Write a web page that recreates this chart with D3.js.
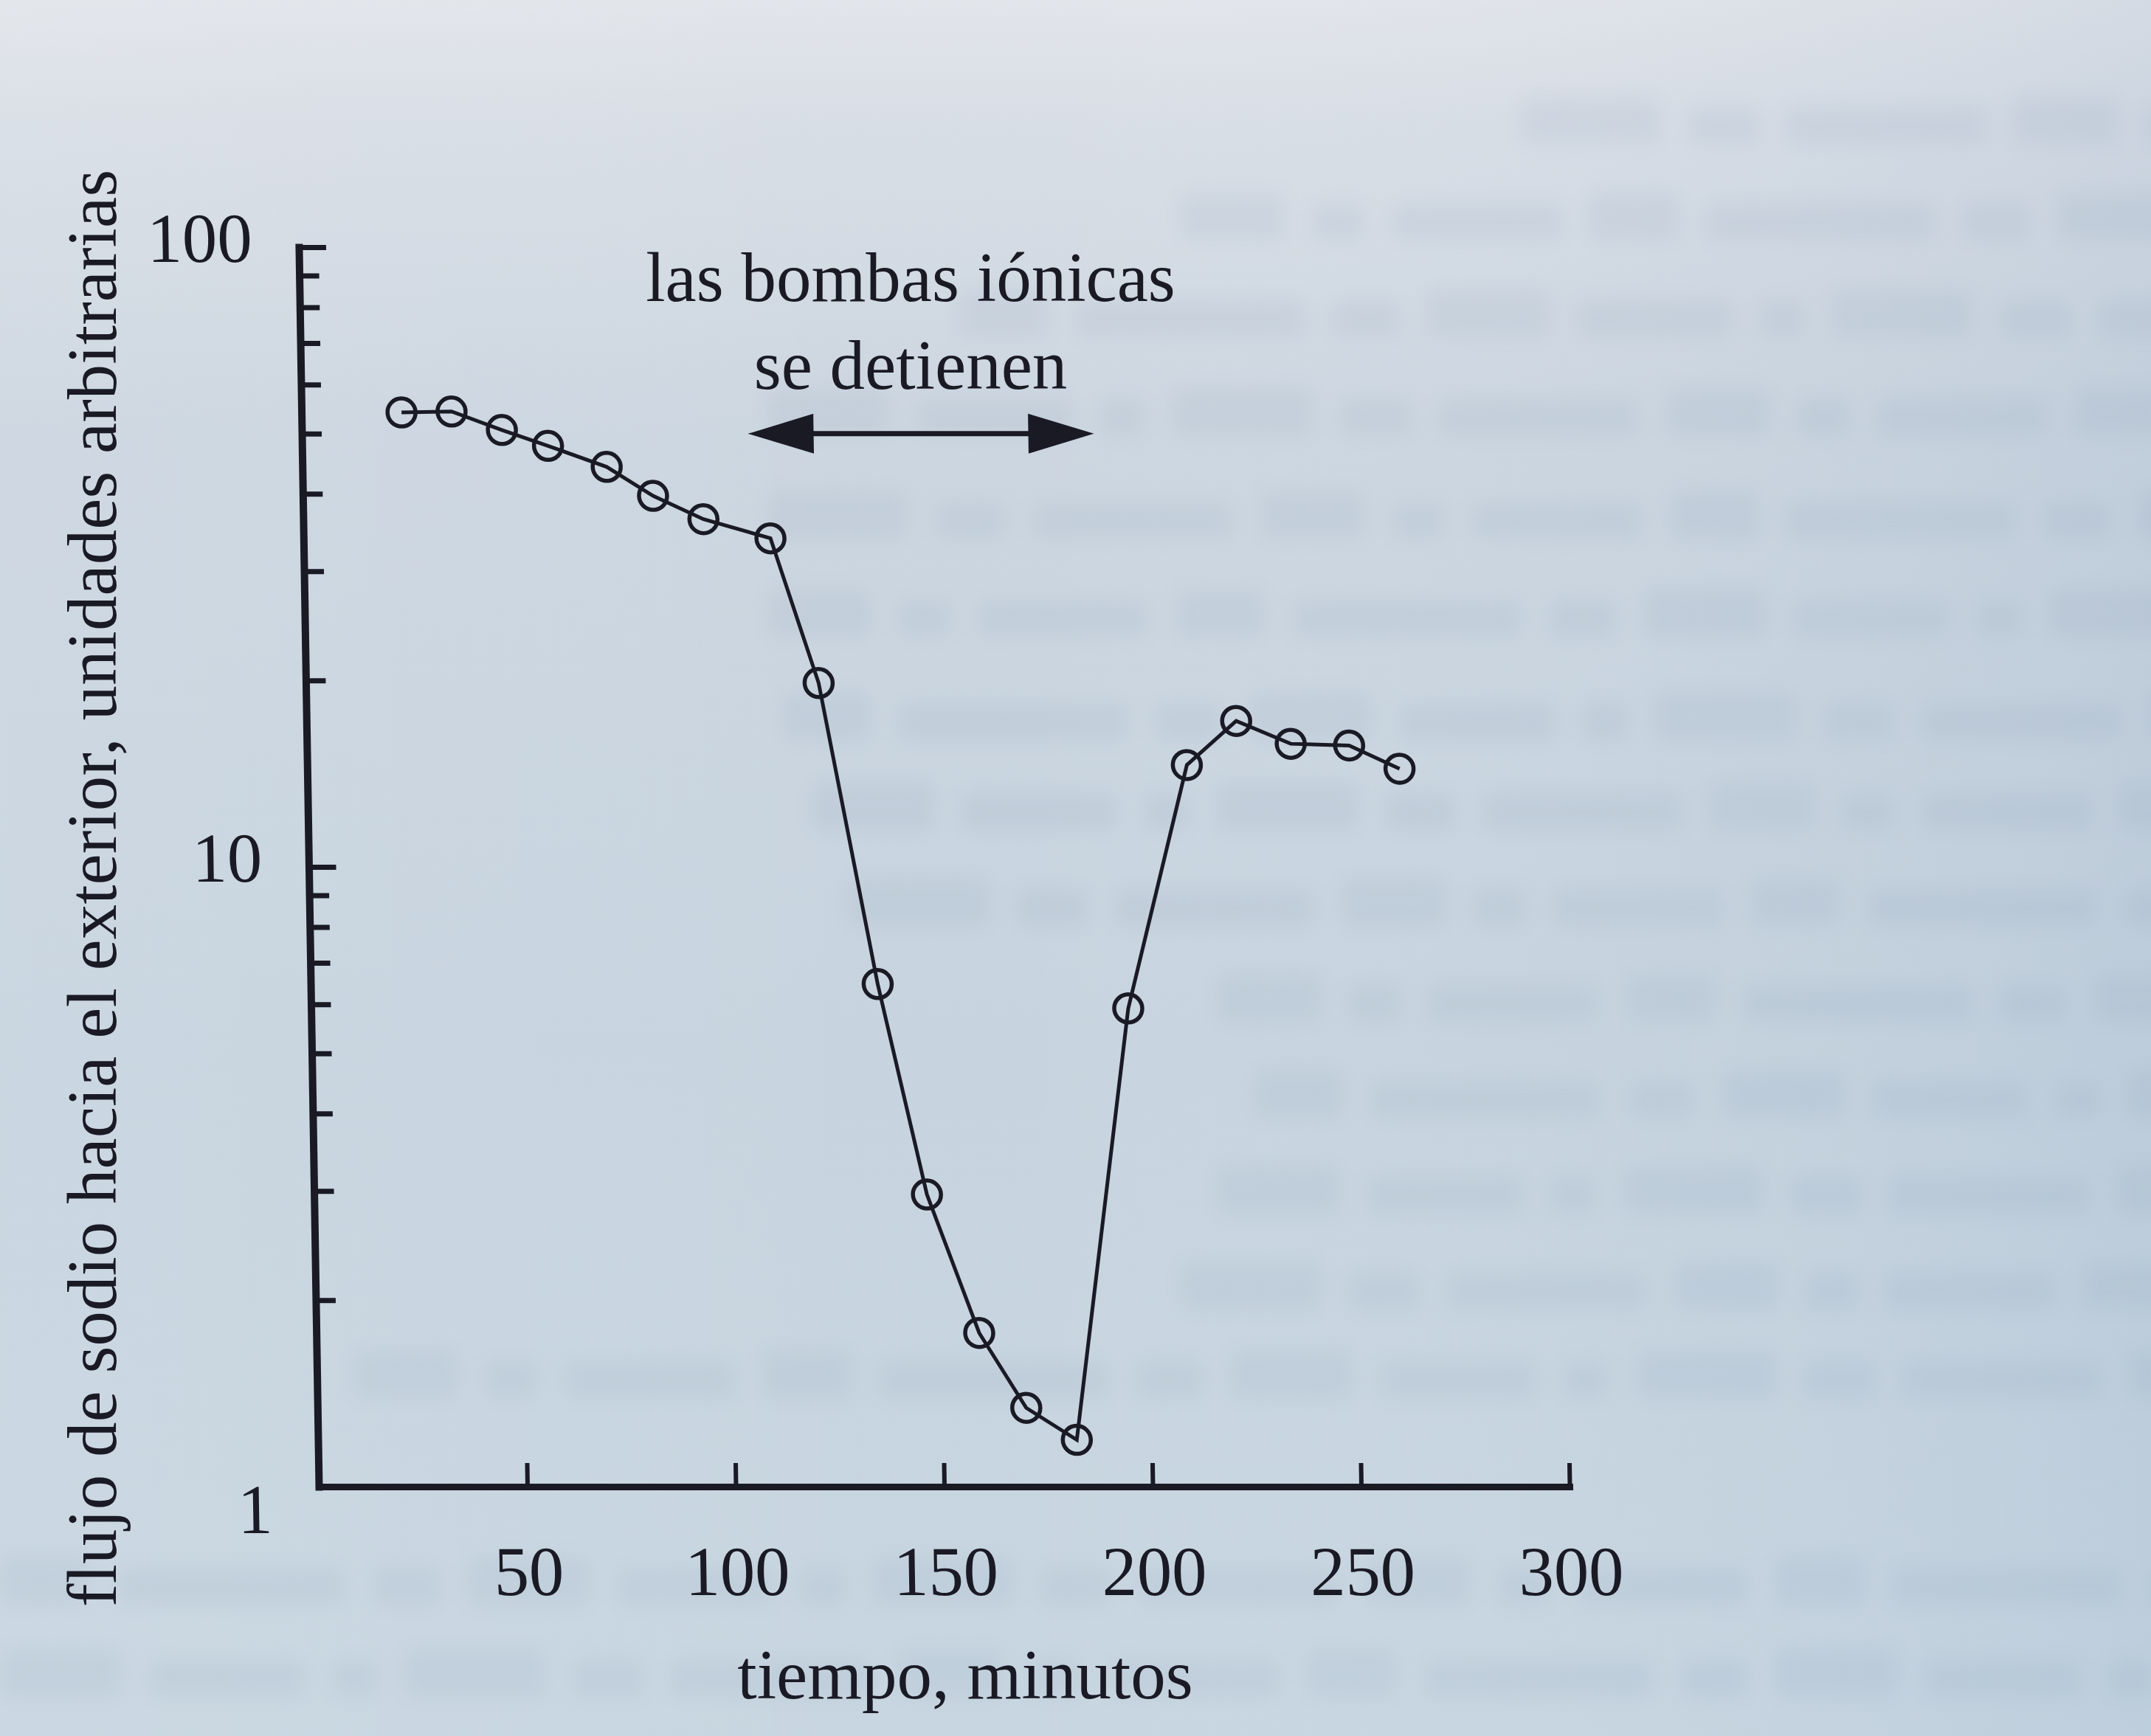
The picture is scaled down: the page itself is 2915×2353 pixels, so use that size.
<!DOCTYPE html>
<html>
<head>
<meta charset="utf-8">
<script src="https://cdn.jsdelivr.net/npm/d3@7"></script>
<style>
  html, body { margin: 0; padding: 0; background: #c9d5e0; }
  svg { display: block; }
</style>
</head>
<body>
<svg id="chart" width="2915" height="2353"></svg>
<script>
// ---------------- data ----------------
const times = [24, 36, 48, 59, 73, 84, 96, 112, 123, 136, 147, 159, 170, 182, 196, 211, 223, 236, 250, 262];
const flux  = [54.1, 54.3, 50.7, 47.8, 44.2, 39.7, 36.4, 33.9, 19.8, 6.47, 2.96, 1.77, 1.34, 1.19, 5.91, 14.6, 17.2, 15.8, 15.7, 14.4];
const xTickValues = [50, 100, 150, 200, 250, 300];
const yMajorTicks = [1, 10, 100];
const yMinorTicks = [2, 3, 4, 5, 6, 7, 8, 9, 20, 30, 40, 50, 60, 70, 80, 90];
const pumpStop = [107, 190];          // minutes: interval marked by the double arrow
const pumpArrowLevel = 50;            // flux level at which the arrow is drawn
const xTitle = "tiempo, minutos";
const yTitle = "flujo de sodio hacia el exterior, unidades arbitrarias";
const annotationLines = ["las bombas iónicas", "se detienen"];

// ---------------- setup ----------------
const W = 2915, H = 2353;
const INK = "#1a1a25";
const FONT = "'Liberation Serif', 'Times New Roman', Times, serif";
const FS = 95;

const svg = d3.select("#chart");
const defs = svg.append("defs");

// paper background
const bg = defs.append("linearGradient").attr("id", "bgV").attr("x1", 0).attr("y1", 0).attr("x2", 0).attr("y2", 1);
[["0", "#e2e5ea"], ["0.07", "#d8dee6"], ["0.25", "#ccd6e0"], ["0.6", "#c7d4df"], ["1", "#c8d6e1"]]
  .forEach(([o, c]) => bg.append("stop").attr("offset", o).attr("stop-color", c));
const bgH = defs.append("linearGradient").attr("id", "bgH").attr("x1", 0).attr("y1", 0).attr("x2", 1).attr("y2", 0);
[["0", "#ffffff", 0.06], ["0.45", "#ffffff", 0.0], ["1", "#7f9cbc", 0.14]]
  .forEach(([o, c, a]) => bgH.append("stop").attr("offset", o).attr("stop-color", c).attr("stop-opacity", a));
const blur = defs.append("filter").attr("id", "ghostBlur").attr("x", "-10%").attr("y", "-50%").attr("width", "120%").attr("height", "200%");
blur.append("feGaussianBlur").attr("stdDeviation", 13);

svg.append("rect").attr("width", W).attr("height", H).attr("fill", "url(#bgV)");
svg.append("rect").attr("width", W).attr("height", H).attr("fill", "url(#bgH)");

// faint show-through of the reverse page (texture only)
const ghostRows = [
  {y: 170, x0: 2060}, {y: 300, x0: 1600}, {y: 432, x0: 1300}, {y: 565, x0: 1040},
  {y: 705, x0: 1040}, {y: 838, x0: 1040}, {y: 978, x0: 1060}, {y: 1100, x0: 1100},
  {y: 1230, x0: 1150}, {y: 1360, x0: 1650}, {y: 1490, x0: 1700}, {y: 1620, x0: 1650},
  {y: 1750, x0: 1600}, {y: 1870, x0: 480}, {y: 2150, x0: 0}, {y: 2275, x0: 0}
];
const wordW = [190, 95, 270, 140, 70, 230, 120, 310, 90, 165, 210, 60];
const ghost = svg.append("g").attr("filter", "url(#ghostBlur)").attr("fill", "#5f7898").attr("opacity", 0.075);
ghostRows.forEach((r, i) => {
  let x = r.x0, k = i * 3;
  while (x < W) {
    const w = wordW[k % wordW.length];
    const hgt = (k % 3 === 0) ? 64 : 50;
    ghost.append("rect").attr("x", x).attr("y", r.y - hgt / 2 - (k % 3 === 0 ? 7 : 0))
      .attr("width", w).attr("height", hgt).attr("rx", 12);
    x += w + 38; k++;
  }
});

// ---------------- scales ----------------
const x = d3.scaleLinear().domain([0, 300]).range([432, 2127]);
const y = d3.scaleLog().domain([1, 100]).range([2015, 335]);

// the photographed page is slightly sheared: vertical lines lean to the left going up
const shear = 0.0161;
const plot = svg.append("g")
  .attr("transform", `matrix(1,0,${shear},1,${-shear * y(1)},0)`);

// ---------------- axes ----------------
function styleAxis(g, width) {
  g.attr("font-family", FONT).attr("font-size", FS);
  g.selectAll(".domain").attr("stroke", INK).attr("stroke-width", width).attr("stroke-linecap", "square");
  g.selectAll(".tick line").attr("stroke", INK);
  g.selectAll(".tick text").attr("fill", INK);
}

// y minor ticks
const gYmin = plot.append("g").attr("transform", `translate(${x(0)},0)`)
  .call(d3.axisLeft(y).tickValues(yMinorTicks).tickSize(-27).tickFormat(""));
gYmin.select(".domain").remove();
gYmin.selectAll(".tick line").attr("stroke", INK).attr("stroke-width", 7);

// y major ticks + labels
const gY = plot.append("g").attr("transform", `translate(${x(0)},0)`)
  .call(d3.axisLeft(y).tickValues(yMajorTicks).tickFormat(d3.format("d"))
        .tickSize(-37).tickSizeOuter(0).tickPadding(63));
styleAxis(gY, 10);
gY.selectAll(".tick line").attr("stroke-width", 7);
gY.selectAll(".tick text").attr("dy", d => d === 1 ? "0.66em" : "0.21em");

// x axis
const gX = plot.append("g").attr("transform", `translate(0,${y(1)})`)
  .call(d3.axisBottom(x).tickValues(xTickValues).tickFormat(d3.format("d"))
        .tickSize(-32).tickSizeOuter(0).tickPadding(80));
styleAxis(gX, 9);
gX.selectAll(".tick line").attr("stroke-width", 6);

// ---------------- data ----------------
const pts = times.map((t, i) => ({t, v: flux[i]}));
const line = d3.line().x(d => x(d.t)).y(d => y(d.v));
plot.append("path").datum(pts)
  .attr("d", line)
  .attr("fill", "none")
  .attr("stroke", INK)
  .attr("stroke-width", 5)
  .attr("stroke-linejoin", "miter");
plot.append("g").selectAll("circle").data(pts).join("circle")
  .attr("cx", d => x(d.t)).attr("cy", d => y(d.v)).attr("r", 19)
  .attr("fill", "none").attr("stroke", INK).attr("stroke-width", 5.5);

// ---------------- annotation arrow ----------------
const ax0 = x(pumpStop[0]), ax1 = x(pumpStop[1]), ay = y(pumpArrowLevel);
const headL = 89, headH = 27;
plot.append("line").attr("x1", ax0 + headL - 5).attr("x2", ax1 - headL + 5)
  .attr("y1", ay).attr("y2", ay).attr("stroke", INK).attr("stroke-width", 7);
plot.append("path")
  .attr("d", `M${ax0},${ay}L${ax0 + headL},${ay - headH}L${ax0 + headL},${ay + headH}Z`)
  .attr("fill", INK);
plot.append("path")
  .attr("d", `M${ax1},${ay}L${ax1 - headL},${ay - headH}L${ax1 - headL},${ay + headH}Z`)
  .attr("fill", INK);

// ---------------- texts ----------------
const texts = svg.append("g").attr("font-family", FONT).attr("font-size", FS).attr("fill", INK);
texts.selectAll("text.ann").data(annotationLines).join("text")
  .attr("class", "ann")
  .attr("x", 1234).attr("y", (d, i) => 408 + i * 119)
  .attr("text-anchor", "middle").text(d => d);

texts.append("text")
  .attr("x", 1308).attr("y", 2302)
  .attr("text-anchor", "middle").text(xTitle);

texts.append("text")
  .attr("transform", "translate(157,1204) rotate(-90)")
  .attr("text-anchor", "middle").text(yTitle);
</script>
</body>
</html>
